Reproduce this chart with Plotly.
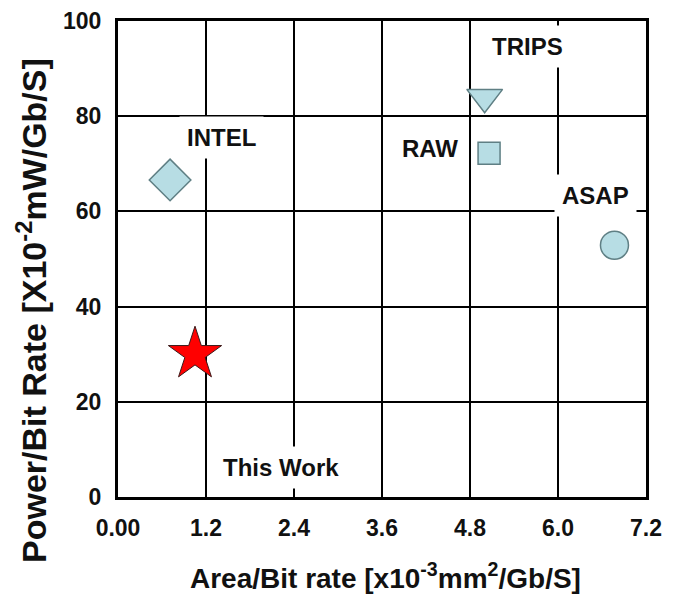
import plotly.graph_objects as go

# ---- data ----
names = ["This Work", "INTEL", "TRIPS", "RAW", "ASAP"]
area_per_bit = [1.05, 0.71, 5.0, 5.06, 6.77]      # x10^-3 mm^2/Gb/S
power_per_bit = [30.0, 66.6, 84.0, 72.2, 52.9]    # x10^-2 mW/Gb/S

x_tick_vals = [0, 1.2, 2.4, 3.6, 4.8, 6.0, 7.2]
x_tick_text = ["0.00", "1.2", "2.4", "3.6", "4.8", "6.0", "7.2"]
y_tick_vals = [0, 20, 40, 60, 80, 100]

# ---- styles ----
FONT = "Liberation Sans, Arial, sans-serif"
FILL = "#b7dde4"
EDGE = "#5f7f84"
marker_styles = {
    "This Work": dict(symbol="star", size=40, color="#ff0000", line=dict(color="#3a1a1a", width=1)),
    "INTEL": dict(symbol="diamond", size=32, color=FILL, line=dict(color=EDGE, width=1.5)),
    "TRIPS": dict(symbol="triangle-down", size=31, color=FILL, line=dict(color=EDGE, width=1.5)),
    "RAW": dict(symbol="square", size=22, color=FILL, line=dict(color=EDGE, width=1.5)),
    "ASAP": dict(symbol="circle", size=28, color=FILL, line=dict(color=EDGE, width=1.5)),
}

# page body has an 8px margin -> figure is offset by 8px
OFF = 8
W, H = 673 - OFF, 594 - OFF
L, R, T, B = 118 - OFF, 27, 21 - OFF, 97

fig = go.Figure()
for n, xv, yv in zip(names, area_per_bit, power_per_bit):
    fig.add_trace(go.Scatter(x=[xv], y=[yv], mode="markers", name=n,
                             marker=marker_styles[n], showlegend=False,
                             hoverinfo="text", text=[n]))

# label placement (layout, not data)
label_pos = {
    "INTEL": (1.418, 75.6, True),
    "TRIPS": (5.578, 94.6, True),
    "RAW": (4.255, 73.2, False),
    "ASAP": (6.518, 63.3, True),
    "This Work": (2.216, 6.1, True),
}
for n in names:
    lx, ly, bg = label_pos[n]
    fig.add_annotation(x=lx, y=ly, xref="x", yref="y", text=n, showarrow=False,
                       font=dict(family=FONT, size=24, color="#111111", weight="bold"),
                       bgcolor="white" if bg else "rgba(0,0,0,0)", borderpad=7)

tick_font = dict(family=FONT, size=23, color="#111111", weight="bold")
fig.update_layout(
    width=W, height=H,
    margin=dict(l=L, r=R, t=T, b=B, autoexpand=False),
    paper_bgcolor="white", plot_bgcolor="white",
    font=dict(family=FONT, color="#111111"),
    xaxis=dict(range=[0, 7.2], tickvals=x_tick_vals, ticktext=x_tick_text,
               showgrid=True, gridcolor="black", gridwidth=2, zeroline=False,
               showline=True, linecolor="black", linewidth=3, mirror=True,
               ticks="outside", ticklen=8, tickcolor="rgba(0,0,0,0)",
               tickfont=tick_font, ticklabeloverflow="allow", fixedrange=True),
    yaxis=dict(range=[0, 100], tickvals=y_tick_vals,
               showgrid=True, gridcolor="black", gridwidth=2, zeroline=False,
               showline=True, linecolor="black", linewidth=3, mirror=True,
               ticks="outside", ticklen=9, tickcolor="rgba(0,0,0,0)",
               tickfont=tick_font, ticklabeloverflow="allow", fixedrange=True),
)

# axis titles as annotations positioned in paper space (page pixel targets)
plot_w = W - L - R
plot_h = H - T - B
def px_to_paper(px, py):
    return ((px - OFF) - L) / plot_w, (H - B - (py - OFF)) / plot_h

tx, ty = px_to_paper(385, 576)
fig.add_annotation(xref="paper", yref="paper", x=tx, y=ty,
                   text="Area/Bit rate [x10<sup>-3</sup>mm<sup>2</sup>/Gb/S]",
                   showarrow=False,
                   font=dict(family=FONT, size=28, color="#111111", weight="bold"),
                   xanchor="center", yanchor="middle")
tx, ty = px_to_paper(31, 311)
fig.add_annotation(xref="paper", yref="paper", x=tx, y=ty,
                   text="Power/Bit Rate [X10<sup>-2</sup>mW/Gb/S]",
                   textangle=-90, showarrow=False,
                   font=dict(family=FONT, size=34, color="#111111", weight="bold"),
                   xanchor="center", yanchor="middle")

fig.write_html("out.html")
